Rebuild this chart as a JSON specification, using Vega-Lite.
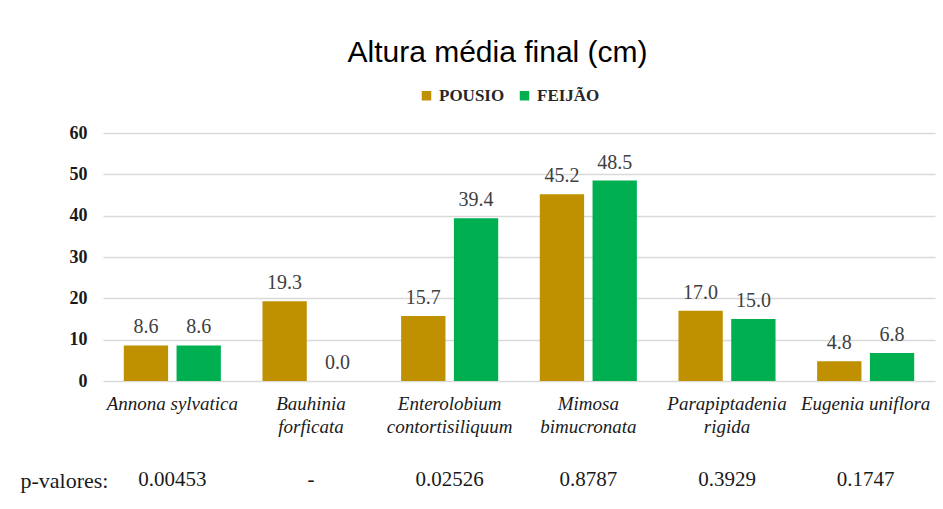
{
  "$schema": "https://vega.github.io/schema/vega-lite/v6.json",
  "autosize": {"type": "pad"},
  "padding": {"left": 20, "top": 38, "right": 8, "bottom": 5},
  "background": "white",
  "title": {
    "text": "Altura média final (cm)",
    "font": "Liberation Sans",
    "fontSize": 30,
    "fontWeight": "normal",
    "color": "#000000",
    "anchor": "middle",
    "dx": 20,
    "offset": 19
  },
  "datasets": {
    "alturas": [
      {"especie": "Annona sylvatica", "tratamento": "POUSIO", "altura": 8.6},
      {"especie": "Annona sylvatica", "tratamento": "FEIJÃO", "altura": 8.6},
      {"especie": "Bauhinia forficata", "tratamento": "POUSIO", "altura": 19.3},
      {"especie": "Bauhinia forficata", "tratamento": "FEIJÃO", "altura": 0.0},
      {"especie": "Enterolobium contortisiliquum", "tratamento": "POUSIO", "altura": 15.7},
      {"especie": "Enterolobium contortisiliquum", "tratamento": "FEIJÃO", "altura": 39.4},
      {"especie": "Mimosa bimucronata", "tratamento": "POUSIO", "altura": 45.2},
      {"especie": "Mimosa bimucronata", "tratamento": "FEIJÃO", "altura": 48.5},
      {"especie": "Parapiptadenia rigida", "tratamento": "POUSIO", "altura": 17.0},
      {"especie": "Parapiptadenia rigida", "tratamento": "FEIJÃO", "altura": 15.0},
      {"especie": "Eugenia uniflora", "tratamento": "POUSIO", "altura": 4.8},
      {"especie": "Eugenia uniflora", "tratamento": "FEIJÃO", "altura": 6.8}
    ],
    "pvalores": [
      {"especie": "Annona sylvatica", "rotulo": "p-valores:", "p": "0.00453"},
      {"especie": "Bauhinia forficata", "rotulo": "p-valores:", "p": "-"},
      {"especie": "Enterolobium contortisiliquum", "rotulo": "p-valores:", "p": "0.02526"},
      {"especie": "Mimosa bimucronata", "rotulo": "p-valores:", "p": "0.8787"},
      {"especie": "Parapiptadenia rigida", "rotulo": "p-valores:", "p": "0.3929"},
      {"especie": "Eugenia uniflora", "rotulo": "p-valores:", "p": "0.1747"}
    ]
  },
  "config": {
    "view": {"stroke": null},
    "concat": {"spacing": 84}
  },
  "bounds": "flush",
  "vconcat": [
    {
      "width": 832,
      "height": 248,
      "data": {"name": "alturas"},
      "encoding": {
        "x": {
          "field": "especie",
          "type": "nominal",
          "sort": ["Annona sylvatica", "Bauhinia forficata", "Enterolobium contortisiliquum", "Mimosa bimucronata", "Parapiptadenia rigida", "Eugenia uniflora"],
          "scale": {"paddingInner": 0.3, "paddingOuter": 0.15},
          "axis": {
            "title": null,
            "labelAngle": 0,
            "domain": false,
            "ticks": false,
            "labelFont": "Liberation Serif",
            "labelFontStyle": "italic",
            "labelFontSize": 19,
            "labelColor": "#1a1a1a",
            "labelLineHeight": 23,
            "labelPadding": 13,
            "labelBaseline": "top",
            "labelOverlap": false,
            "labelLimit": 0,
            "labelBound": false,
            "labelExpr": "datum.value == 'Annona sylvatica' || datum.value == 'Eugenia uniflora' ? datum.value : split(datum.value, ' ')"
          }
        },
        "xOffset": {
          "field": "tratamento",
          "type": "nominal",
          "sort": ["POUSIO", "FEIJÃO"],
          "scale": {"paddingInner": 0.16, "paddingOuter": 0}
        },
        "y": {
          "field": "altura",
          "type": "quantitative",
          "scale": {"domain": [0, 60], "nice": false},
          "axis": {
            "title": null,
            "values": [0, 10, 20, 30, 40, 50, 60],
            "domain": false,
            "ticks": false,
            "grid": true,
            "gridColor": "#d9d9d9",
            "gridWidth": 1.5,
            "labelFont": "Liberation Serif",
            "labelFontWeight": "bold",
            "labelFontSize": 18,
            "labelColor": "#1a1a1a",
            "labelPadding": 16
          }
        },
        "color": {
          "field": "tratamento",
          "type": "nominal",
          "sort": ["POUSIO", "FEIJÃO"],
          "scale": {"domain": ["POUSIO", "FEIJÃO"], "range": ["#BF9000", "#00B050"]},
          "legend": {
            "title": null,
            "orient": "none",
            "legendX": 315,
            "legendY": -46,
            "direction": "horizontal",
            "symbolType": "square",
            "symbolSize": 90,
            "symbolStrokeWidth": 0,
            "labelFont": "Liberation Serif",
            "labelFontWeight": "bold",
            "labelFontSize": 17,
            "labelColor": "#262626",
            "labelOffset": 4,
            "columnPadding": 11
          }
        }
      },
      "layer": [
        {"mark": {"type": "bar"}},
        {
          "mark": {
            "type": "text",
            "baseline": "alphabetic",
            "dy": -12,
            "font": "Liberation Serif",
            "fontSize": 20,
            "color": "#404040"
          },
          "encoding": {
            "text": {"field": "altura", "type": "quantitative", "format": ".1f"},
            "color": {"value": "#404040"}
          }
        }
      ]
    },
    {
      "width": 832,
      "height": 30,
      "data": {"name": "pvalores"},
      "mark": {
        "type": "text",
        "font": "Liberation Serif",
        "fontSize": 21,
        "color": "#1a1a1a"
      },
      "encoding": {
        "x": {
          "field": "especie",
          "type": "nominal",
          "sort": ["Annona sylvatica", "Bauhinia forficata", "Enterolobium contortisiliquum", "Mimosa bimucronata", "Parapiptadenia rigida", "Eugenia uniflora"],
          "scale": {"paddingInner": 0.3, "paddingOuter": 0.15},
          "axis": null
        },
        "y": {
          "field": "rotulo",
          "type": "nominal",
          "axis": {
            "title": null,
            "domain": false,
            "ticks": false,
            "grid": false,
            "labelAlign": "left",
            "labelPadding": 83,
            "labelFont": "Liberation Serif",
            "labelFontSize": 22,
            "labelColor": "#1a1a1a",
            "labelLimit": 0
          }
        },
        "text": {"field": "p", "type": "nominal"}
      }
    }
  ]
}
